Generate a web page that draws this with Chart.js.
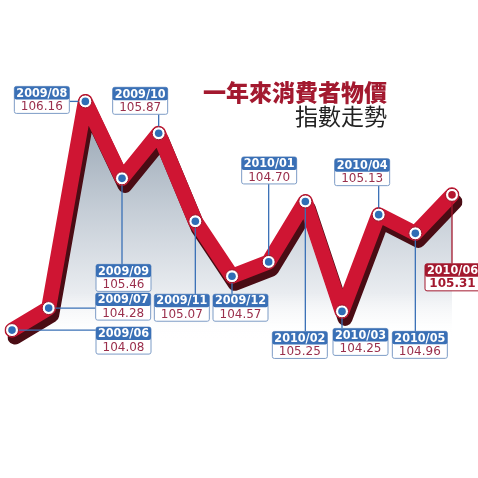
<!DOCTYPE html>
<html>
<head>
<meta charset="utf-8">
<script src="https://cdn.jsdelivr.net/npm/chart.js@4/dist/chart.umd.min.js"></script>
<style>
  html, body { margin: 0; padding: 0; background: #fff; }
  #wrap { position: relative; width: 478px; height: 478px; overflow: hidden; }
  #cpiChart { position: absolute; left: 0; top: 0; }
  .title {
    position: absolute; right: 91px; white-space: nowrap;
    font-family: "Noto Sans CJK TC", "Noto Sans CJK SC", sans-serif;
  }
  #title1 { top: 80px; font-size: 23px; line-height: 23px; font-weight: 900; color: #a3192f; }
  #title2 { top: 104px; font-size: 23px; line-height: 23px; font-weight: 400; color: #222; }
</style>
</head>
<body>
<div id="wrap">
  <canvas id="cpiChart" width="478" height="478"></canvas>
  <div class="title" id="title1">一年來消費者物價</div>
  <div class="title" id="title2">指數走勢</div>
</div>
<script>
// months and index values
const months = ['2009/06', '2009/07', '2009/08', '2009/09', '2009/10', '2009/11', '2009/12',
                '2010/01', '2010/02', '2010/03', '2010/04', '2010/05', '2010/06'];
const cpi = [104.08, 104.28, 106.16, 105.46, 105.87, 105.07, 104.57,
             104.70, 105.25, 104.25, 105.13, 104.96, 105.31];
const valueText = ['104.08', '104.28', '106.16', '105.46', '105.87', '105.07', '104.57',
                   '104.70', '105.25', '104.25', '105.13', '104.96', '105.31'];

// where each callout box sits relative to its point: [dx, dy, leader direction]
const calloutOffsets = [
  [84, -3, 'h'], [47, -15, 'h'], [-71, -15, 'h'], [-26, 86, 'v'], [-46, -46, 'v'],
  [-41, 73, 'v'], [-19, 18, 'v'], [-27, -105, 'v'], [-33, 130, 'v'], [-9, 17, 'v'],
  [-44, -56, 'v'], [-23, 98, 'v'], [-27, 69, 'v']
];
const highlightIndex = 12;

const BLUE = '#3a70b6';
const DARK_RED = '#a3192f';
const BOX_W = 55, HEAD_H = 13, BOX_H = 27;

// shift the dark copy of the line to fake the ribbon depth
const ribbonDepth = {
  id: 'ribbonDepth',
  beforeDatasetDraw(chart, args) {
    if (chart.data.datasets[args.index].id !== 'depth') return;
    chart.ctx.save();
    chart.ctx.translate(3, 7);
  },
  afterDatasetDraw(chart, args) {
    if (chart.data.datasets[args.index].id !== 'depth') return;
    chart.ctx.restore();
  }
};

function boxFor(pt, i) {
  const off = calloutOffsets[i];
  return { x: pt.x + off[0], y: pt.y + off[1], dir: off[2] };
}

function roundRect(ctx, x, y, w, h, r) {
  ctx.beginPath();
  ctx.moveTo(x + r, y);
  ctx.lineTo(x + w - r, y);
  ctx.quadraticCurveTo(x + w, y, x + w, y + r);
  ctx.lineTo(x + w, y + h - r);
  ctx.quadraticCurveTo(x + w, y + h, x + w - r, y + h);
  ctx.lineTo(x + r, y + h);
  ctx.quadraticCurveTo(x, y + h, x, y + h - r);
  ctx.lineTo(x, y + r);
  ctx.quadraticCurveTo(x, y, x + r, y);
  ctx.closePath();
}

const callouts = {
  id: 'callouts',
  // leader lines go over the ribbon but under the point rings
  afterDatasetDraw(chart, args) {
    if (chart.data.datasets[args.index].id !== 'ribbon') return;
    const ctx = chart.ctx;
    ctx.save();
    ctx.lineWidth = 1.3;
    args.meta.data.forEach((pt, i) => {
      const b = boxFor(pt, i);
      ctx.strokeStyle = i === highlightIndex ? DARK_RED : BLUE;
      ctx.beginPath();
      ctx.moveTo(pt.x, pt.y);
      if (b.dir === 'h') {
        ctx.lineTo(b.x > pt.x ? b.x : b.x + BOX_W, pt.y);
      } else {
        ctx.lineTo(pt.x, b.y > pt.y ? b.y : b.y + BOX_H);
      }
      ctx.stroke();
    });
    ctx.restore();
  },
  afterDatasetsDraw(chart) {
    const ctx = chart.ctx;
    const meta = chart.getDatasetMeta(2);
    ctx.save();
    ctx.textAlign = 'center';
    ctx.textBaseline = 'middle';
    meta.data.forEach((pt, i) => {
      const b = boxFor(pt, i);
      const hot = i === highlightIndex;
      const main = hot ? DARK_RED : BLUE;
      roundRect(ctx, b.x, b.y, BOX_W, BOX_H, 2);
      ctx.fillStyle = '#fff';
      ctx.fill();
      ctx.strokeStyle = hot ? DARK_RED : '#7d9cc6';
      ctx.lineWidth = 1;
      ctx.stroke();
      roundRect(ctx, b.x, b.y, BOX_W, HEAD_H, 2);
      ctx.fillStyle = main;
      ctx.fill();
      ctx.fillStyle = '#fff';
      ctx.font = 'bold 12.5px "DejaVu Sans Condensed", "DejaVu Sans"';
      ctx.fillText(months[i], b.x + BOX_W / 2, b.y + HEAD_H / 2 + 0.5);
      ctx.fillStyle = hot ? DARK_RED : '#9a2f4c';
      ctx.font = (hot ? 'bold ' : '') + '12px "DejaVu Sans"';
      ctx.fillText(valueText[i], b.x + BOX_W / 2, b.y + HEAD_H + 7.5);
    });
    ctx.restore();
  }
};

function areaGradient(context) {
  const chart = context.chart;
  if (!chart.chartArea) return 'rgba(0,0,0,0)';
  const y = chart.scales.y;
  const g = chart.ctx.createLinearGradient(0, y.getPixelForValue(106.1), 0, y.getPixelForValue(104.0));
  g.addColorStop(0, '#95a3b1');
  g.addColorStop(0.45, '#c6ced7');
  g.addColorStop(0.8, '#e9ecf0');
  g.addColorStop(1, 'rgba(255,255,255,0)');
  return g;
}

const ctx = document.getElementById('cpiChart').getContext('2d');
new Chart(ctx, {
  type: 'line',
  data: {
    labels: months,
    datasets: [
      {
        id: 'dots', data: cpi, order: 1, showLine: false,
        pointRadius: 3.8, pointBorderWidth: 0,
        pointBackgroundColor: cpi.map((v, i) => i === highlightIndex ? '#b5172f' : '#2f6eb5')
      },
      {
        id: 'rings', data: cpi, order: 2, showLine: false,
        pointRadius: 6.5, pointBorderWidth: 1,
        pointBackgroundColor: '#fff', pointBorderColor: '#9e1228'
      },
      {
        id: 'ribbon', data: cpi, order: 3, fill: false, tension: 0,
        borderColor: '#cf1533', borderWidth: 15, borderJoinStyle: 'round', borderCapStyle: 'round',
        pointRadius: 0
      },
      {
        id: 'depth', data: cpi, order: 4, fill: false, tension: 0,
        borderColor: '#4a0c14', borderWidth: 15, borderJoinStyle: 'round', borderCapStyle: 'round',
        pointRadius: 0
      },
      {
        id: 'area', data: cpi, order: 5, fill: 'start', tension: 0,
        borderWidth: 0, pointRadius: 0, backgroundColor: areaGradient
      }
    ]
  },
  options: {
    responsive: false,
    animation: false,
    layout: { padding: { left: 12, right: 26, top: 0, bottom: 0 } },
    scales: {
      x: { display: false, offset: false },
      y: { display: false, min: 102.803, max: 107.014 }
    },
    plugins: {
      legend: { display: false },
      tooltip: { enabled: false }
    }
  },
  plugins: [ribbonDepth, callouts]
});
</script>
</body>
</html>
